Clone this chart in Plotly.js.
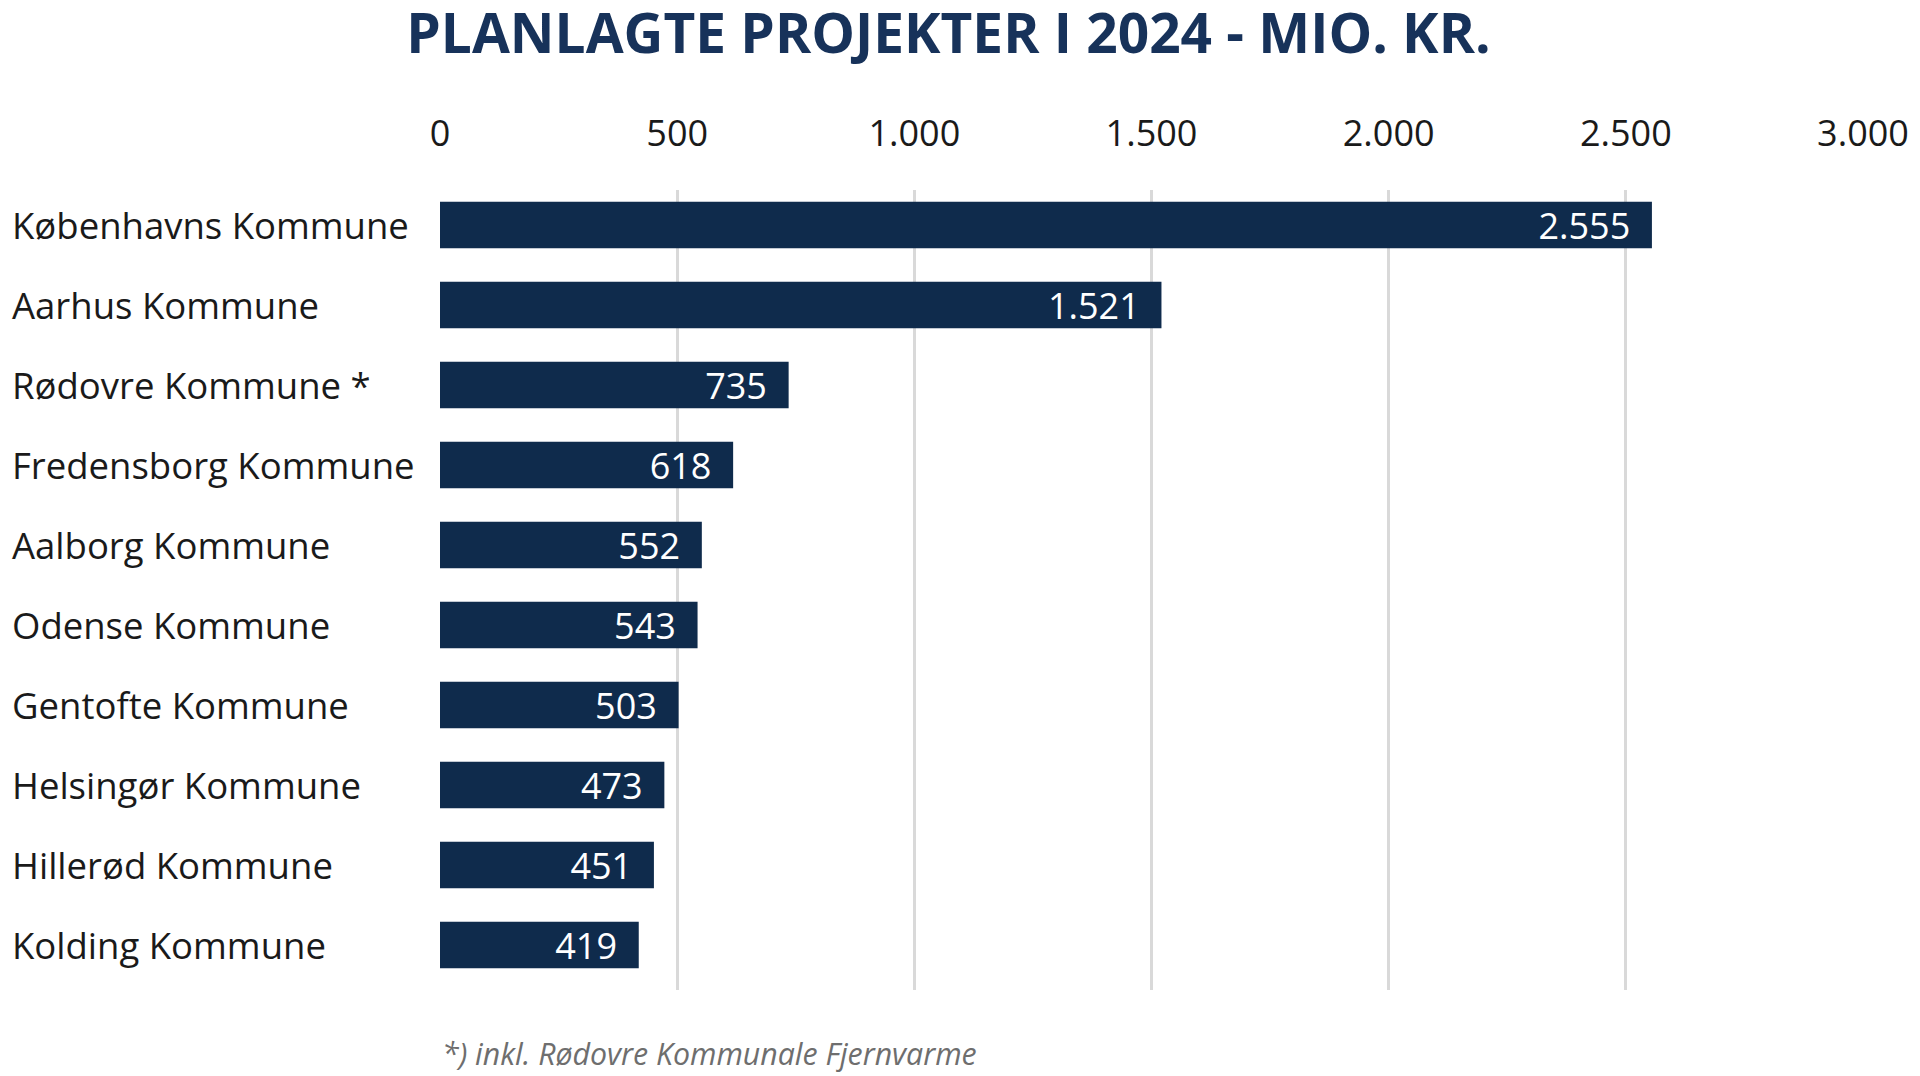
<!DOCTYPE html>
<html>
<head>
<meta charset="utf-8">
<script src="https://cdn.plot.ly/plotly-3.0.1.min.js"></script>
<style>
  html, body { margin: 0; padding: 0; background: #ffffff; }
  #chart { width: 1920px; height: 1076px; }
</style>
</head>
<body>
<div id="chart"></div>
<script>
const categories = [
  "Københavns Kommune",
  "Aarhus Kommune",
  "Rødovre Kommune *",
  "Fredensborg Kommune",
  "Aalborg Kommune",
  "Odense Kommune",
  "Gentofte Kommune",
  "Helsingør Kommune",
  "Hillerød Kommune",
  "Kolding Kommune"
];
const values = [2555, 1521, 735, 618, 552, 543, 503, 473, 451, 419];
const tickValues = [0, 500, 1000, 1500, 2000, 2500, 3000];
const titleText = "PLANLAGTE PROJEKTER I 2024 - MIO. KR.";
const footnoteText = "*) inkl. Rødovre Kommunale Fjernvarme";

const NB = "\u00a0";
const trace = {
  type: "bar",
  orientation: "h",
  x: values,
  y: categories,
  marker: { color: "#0f2b4c" },
  texttemplate: "%{x:,.0f}" + NB + NB,
  textposition: "inside",
  insidetextanchor: "end",
  textangle: 0,
  constraintext: "none",
  insidetextfont: { family: "Open Sans", size: 36, color: "#ffffff" },
  hoverinfo: "none",
  cliponaxis: false
};

const annotations = categories.map(c => ({
  text: c,
  xref: "paper", yref: "y",
  x: -0.3025, y: c,
  xanchor: "left", yanchor: "middle",
  showarrow: false,
  font: { family: "Open Sans", size: 36.5, color: "#1a1a1a" }
}));
annotations.push({
  text: "<i>" + footnoteText + "</i>",
  xref: "paper", yref: "paper",
  x: 0, y: -0.079,
  xanchor: "left", yanchor: "middle",
  showarrow: false,
  font: { family: "Open Sans", size: 30.3, color: "#6e6e6e" }
});

const layout = {
  width: 1920, height: 1076,
  paper_bgcolor: "#ffffff", plot_bgcolor: "#ffffff",
  separators: ",.",
  margin: { l: 440, r: 57, t: 190, b: 86, pad: 0 },
  title: {
    text: "<b>" + titleText + "</b>",
    x: 0.494, xanchor: "center",
    y: 0.969, yanchor: "middle",
    font: { family: "Open Sans", size: 55, color: "#17325a" }
  },
  bargap: 0.416,
  showlegend: false,
  xaxis: {
    side: "top",
    range: [0, 3000],
    tickvals: tickValues,
    tickformat: ",.0f",
    showgrid: true, gridcolor: "#d9d9d9", gridwidth: 3,
    zeroline: false, showline: false,
    ticks: "outside", ticklen: 29, tickcolor: "rgba(0,0,0,0)",
    tickfont: { family: "Open Sans", size: 36, color: "#1a1a1a" },
    fixedrange: true
  },
  yaxis: {
    type: "category",
    range: [9.5625, -0.4375],
    showticklabels: false,
    showgrid: false, zeroline: false, showline: false,
    fixedrange: true
  },
  annotations: annotations
};

Plotly.newPlot("chart", [trace], layout, { displayModeBar: false, staticPlot: true });
</script>
</body>
</html>
